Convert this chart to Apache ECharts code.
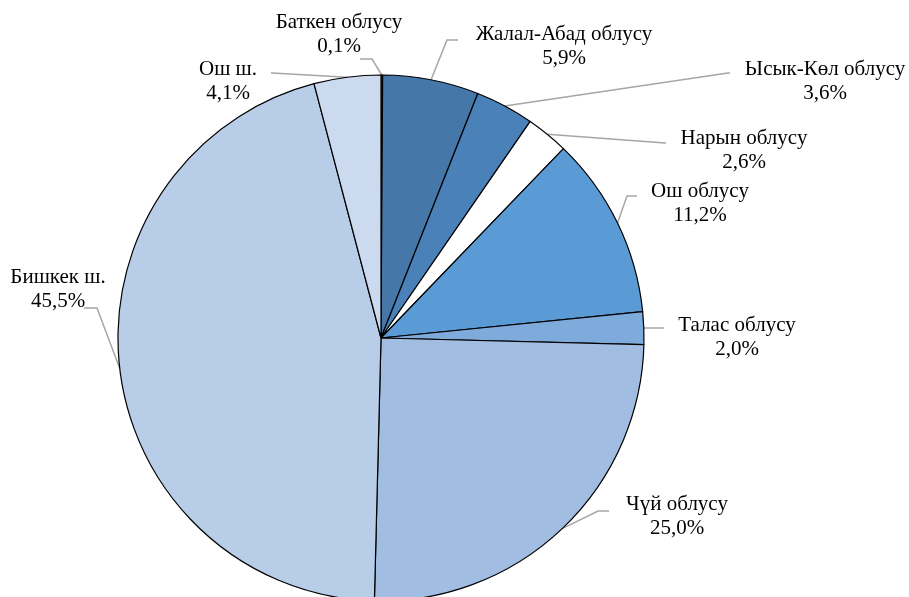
<!DOCTYPE html>
<html><head><meta charset="utf-8">
<script src="https://cdn.jsdelivr.net/npm/echarts@6/dist/echarts.min.js"></script>
<style>html,body{margin:0;padding:0;background:#fff}#c{width:909px;height:597px}</style>
</head><body><div id="c"></div>
<script>
const categories = ['Баткен облусу','Жалал-Абад облусу','Ысык-Көл облусу','Нарын облусу','Ош облусу','Талас облусу','Чүй облусу','Бишкек ш.','Ош ш.'];
const values = [0.1, 5.9, 3.6, 2.6, 11.2, 2.0, 25.0, 45.5, 4.1];
const colors = ['#2c5584','#4577a8','#4a81b8','#ffffff','#5a9bd5','#7eabdc','#a2bde2','#b8cde8','#cbdaee'];
// label placement: [labelCenterX, labelCenterY, elbowX, elbowY, endX, endY]
const labelPlace = [
  [339, 34, 372, 59, 360, 59],
  [564, 46, 447, 40, 458, 40],
  [825, 81, 728, 73, 730, 73],
  [744, 150, 665, 143, 666, 143],
  [700, 203, 627, 196, 637, 196],
  [737, 337, 663, 328, 664, 328],
  [677, 516, 598, 511, 609, 511],
  [58, 289, 97, 308, 84, 308],
  [228, 81, 272, 73, 271, 73]
];
const fmt = v => v.toFixed(1).replace('.', ',') + '%';
const chart = echarts.init(document.getElementById('c'), null, {renderer:'canvas'});
chart.setOption({
  animation:false,
  backgroundColor:'#fff',
  series:[{
    type:'pie',
    center:[381,338],
    radius:263,
    startAngle:90,
    clockwise:true,
    avoidLabelOverlap:false,
    data: categories.map((n,i)=>({name:n, value:values[i], itemStyle:{color:colors[i]}})),
    itemStyle:{borderColor:'#000', borderWidth:1.2},
    label:{
      show:true,
      formatter: p => p.name + '\n' + fmt(values[p.dataIndex]),
      fontFamily:'Liberation Serif',
      fontSize:21,
      lineHeight:24,
      color:'#000',
      align:'center'
    },
    labelLine:{show:true, lineStyle:{color:'#a6a6a6', width:1.5}},
    labelLayout: function(p){
      const L = labelPlace[p.dataIndex];
      const s = p.labelLinePoints ? p.labelLinePoints[0] : [L[2],L[3]];
      return {
        x:L[0], y:L[1], align:'center', verticalAlign:'middle',
        labelLinePoints:[s,[L[2],L[3]],[L[4],L[5]]]
      };
    }
  }]
});
</script></body></html>
